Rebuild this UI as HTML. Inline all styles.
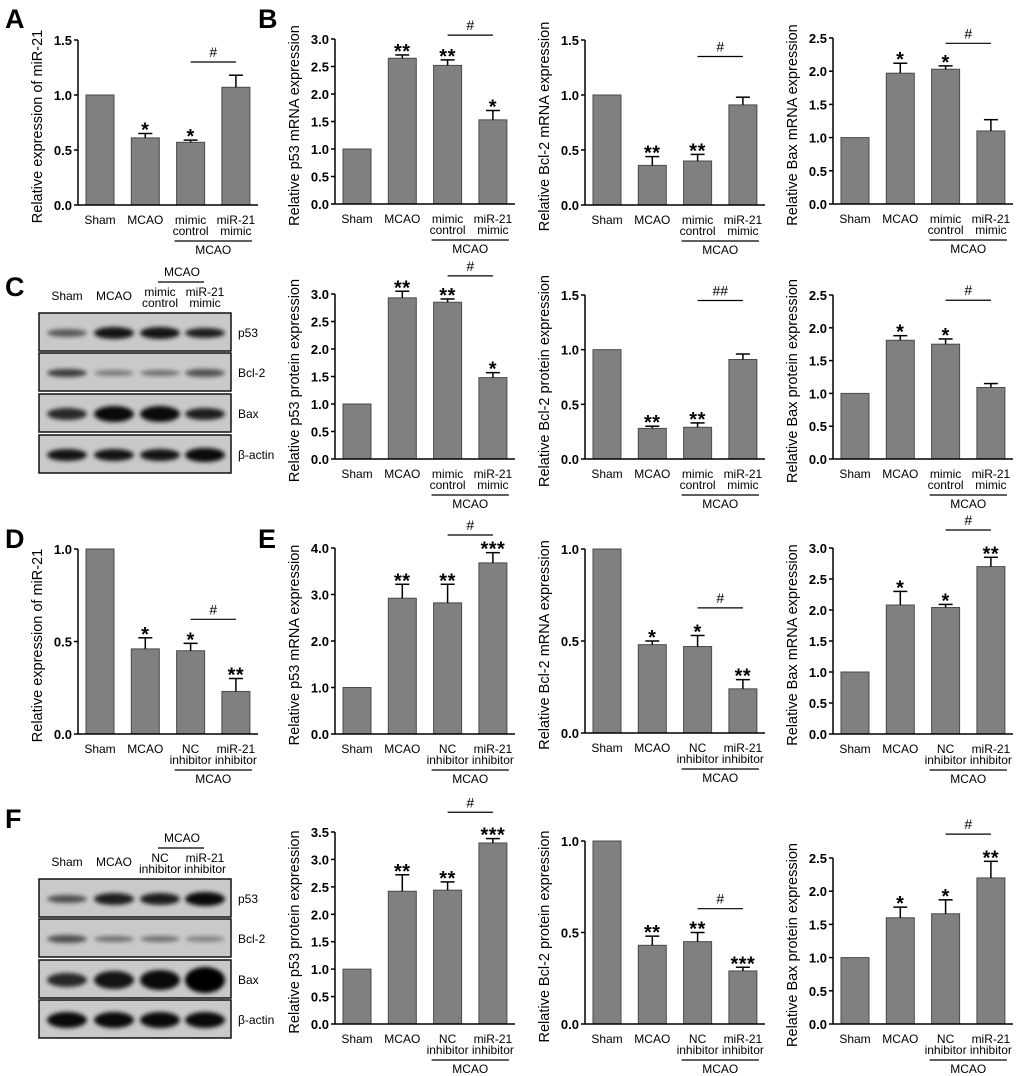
<!DOCTYPE html>
<html><head><meta charset="utf-8">
<style>
html,body{margin:0;padding:0;background:#fff;}
svg{display:block;font-family:"Liberation Sans",Arial,sans-serif;}
</style></head>
<body>
<svg id="fig" width="1020" height="1076" viewBox="0 0 1020 1076" xmlns="http://www.w3.org/2000/svg">
<defs><filter id="blur" x="-20%" y="-50%" width="140%" height="200%"><feGaussianBlur stdDeviation="2.2"/></filter></defs>
</svg>
<script>
// ---- categories ----
const catsMimic=[["Sham"],["MCAO"],["mimic","control"],["miR-21","mimic"]];
const catsInhib=[["Sham"],["MCAO"],["NC","inhibitor"],["miR-21","inhibitor"]];
// ---- series values / errors / significance ----
const valsA=[1,0.61,0.57,1.07], errA=[0,0.04,0.02,0.11], starsA=["","*","*",""];
const valsB1=[1,2.65,2.52,1.53], errB1=[0,0.06,0.10,0.17], starsB1=["","**","**","*"];
const valsB2=[1,0.36,0.40,0.91], errB2=[0,0.08,0.06,0.07], starsB2=["","**","**",""];
const valsB3=[1,1.97,2.03,1.10], errB3=[0,0.15,0.05,0.17], starsB3=["","*","*",""];
const valsC1=[1,2.93,2.85,1.48], errC1=[0,0.12,0.06,0.09], starsC1=["","**","**","*"];
const valsC2=[1,0.28,0.29,0.91], errC2=[0,0.02,0.04,0.05], starsC2=["","**","**",""];
const valsC3=[1,1.81,1.75,1.09], errC3=[0,0.07,0.08,0.06], starsC3=["","*","*",""];
const valsD=[1,0.46,0.45,0.23], errD=[0,0.06,0.04,0.07], starsD=["","*","*","**"];
const valsE1=[1,2.92,2.82,3.68], errE1=[0,0.30,0.40,0.22], starsE1=["","**","**","***"];
const valsE2=[1,0.48,0.47,0.24], errE2=[0,0.02,0.06,0.05], starsE2=["","*","*","**"];
const valsE3=[1,2.08,2.04,2.70], errE3=[0,0.22,0.05,0.15], starsE3=["","*","*","**"];
const valsF1=[1,2.42,2.44,3.30], errF1=[0,0.30,0.15,0.08], starsF1=["","**","**","***"];
const valsF2=[1,0.43,0.45,0.29], errF2=[0,0.05,0.05,0.02], starsF2=["","**","**","***"];
const valsF3=[1,1.60,1.66,2.20], errF3=[0,0.16,0.21,0.25], starsF3=["","*","*","**"];
// ---- tick labels ----
const ticks15=["0.0","0.5","1.0","1.5"];
const ticks30=["0.0","0.5","1.0","1.5","2.0","2.5","3.0"];
const ticks25=["0.0","0.5","1.0","1.5","2.0","2.5"];
const ticks10=["0.0","0.5","1.0"];
const ticks40=["0.0","1.0","2.0","3.0","4.0"];
const ticks35=["0.0","0.5","1.0","1.5","2.0","2.5","3.0","3.5"];
// ---- significance bar heights (data units) and labels ----
const hashVals=[1.30,3.07,1.35,2.42,3.33,1.45,2.42,0.62,4.28,0.68,3.29,3.86,0.63,2.86];
const hashLabels=["#","#","#","#","#","##","#","#","#","#","#","#","#","#"];

const svg=document.getElementById('fig');
const NS="http://www.w3.org/2000/svg";
function el(tag,attrs,parent){const e=document.createElementNS(NS,tag);for(const k in attrs)e.setAttribute(k,attrs[k]);(parent||svg).appendChild(e);return e;}
function txt(s,attrs,parent){const e=el('text',attrs,parent);e.textContent=s;return e;}

function chart(name,ax,top,bot,ticks,vals,errs,stars,cats,title,hv,hl){
  const g=el('g',{});
  
  
  const ymax=parseFloat(ticks[ticks.length-1]);
  const y=v=>bot-v/ymax*(bot-top);
  const bx=i=>ax+8+i*45.3;
  const bw=28;
  vals.forEach((v,i)=>{
    const r=el('rect',{x:bx(i),y:y(v),width:bw,height:bot-y(v),fill:'#808080',stroke:'#4a4a4a','stroke-width':1},g);
    
    
    if(errs[i]>0){
      const cx=bx(i)+bw/2, ye=y(v+errs[i]);
      el('line',{x1:cx,y1:y(v),x2:cx,y2:ye,stroke:'#000','stroke-width':1.5},g);
      el('line',{x1:cx-7,y1:ye,x2:cx+7,y2:ye,stroke:'#000','stroke-width':1.5},g);
    }
    if(stars[i]){
      const s=txt(stars[i],{x:bx(i)+bw/2,y:y(v+errs[i])+3,'text-anchor':'middle','font-size':20,'font-weight':'bold','letter-spacing':'0.5'},g);
      
      
    }
  });
  el('line',{x1:ax,y1:top,x2:ax,y2:bot,stroke:'#000','stroke-width':1.5},g);
  el('line',{x1:ax,y1:bot,x2:ax+180,y2:bot,stroke:'#000','stroke-width':1.5},g);
  ticks.forEach(t=>{
    const ty=y(parseFloat(t));
    el('line',{x1:ax-4,y1:ty,x2:ax,y2:ty,stroke:'#000','stroke-width':1.5},g);
    const l=txt(t,{x:ax-6,y:ty+5,'text-anchor':'end','font-size':13,'font-weight':'bold'},g);
    
    
  });
  const tt=txt(title,{x:0,y:0,'text-anchor':'middle','font-size':14.5,transform:`translate(${ax-36},${(top+bot)/2+4}) rotate(-90)`},g);
  
  
  cats.forEach((c,i)=>{
    const cx=bx(i)+bw/2;
    c.forEach((line,j)=>{
      const l=txt(line,{x:cx,y:bot+19+j*11,'text-anchor':'middle','font-size':12},g);
      
      
    });
  });
  el('line',{x1:bx(2)-2,y1:bot+36,x2:bx(3)+bw+2,y2:bot+36,stroke:'#000','stroke-width':1.2},g);
  const m=txt('MCAO',{x:(bx(2)+bx(3)+bw)/2,y:bot+49,'text-anchor':'middle','font-size':12},g);
  
  
  const hy=y(hv);
  el('line',{x1:bx(2)+bw/2,y1:hy,x2:bx(3)+bw/2,y2:hy,stroke:'#000','stroke-width':1.2},g);
  const h=txt(hl,{x:(bx(2)+bx(3)+bw)/2,y:hy-5,'text-anchor':'middle','font-size':14},g);
  
  
}

const cols=[78,335,585,833];
chart('chart-a-mir21',cols[0],40,205,ticks15,valsA,errA,starsA,catsMimic,'Relative expression of miR-21',hashVals[0],hashLabels[0]);
chart('chart-b-p53-mrna',cols[1],39,204,ticks30,valsB1,errB1,starsB1,catsMimic,'Relative p53 mRNA expression',hashVals[1],hashLabels[1]);
chart('chart-b-bcl2-mrna',cols[2],40,205,ticks15,valsB2,errB2,starsB2,catsMimic,'Relative Bcl-2 mRNA expression',hashVals[2],hashLabels[2]);
chart('chart-b-bax-mrna',cols[3],38,204,ticks25,valsB3,errB3,starsB3,catsMimic,'Relative Bax mRNA expression',hashVals[3],hashLabels[3]);
chart('chart-c-p53-protein',cols[1],294,459,ticks30,valsC1,errC1,starsC1,catsMimic,'Relative p53 protein expression',hashVals[4],hashLabels[4]);
chart('chart-c-bcl2-protein',cols[2],295,459,ticks15,valsC2,errC2,starsC2,catsMimic,'Relative Bcl-2 protein expression',hashVals[5],hashLabels[5]);
chart('chart-c-bax-protein',cols[3],295,459,ticks25,valsC3,errC3,starsC3,catsMimic,'Relative Bax protein expression',hashVals[6],hashLabels[6]);
chart('chart-d-mir21',cols[0],549,734,ticks10,valsD,errD,starsD,catsInhib,'Relative expression of miR-21',hashVals[7],hashLabels[7]);
chart('chart-e-p53-mrna',cols[1],548,734,ticks40,valsE1,errE1,starsE1,catsInhib,'Relative p53 mRNA expression',hashVals[8],hashLabels[8]);
chart('chart-e-bcl2-mrna',cols[2],549,733,ticks10,valsE2,errE2,starsE2,catsInhib,'Relative Bcl-2 mRNA expression',hashVals[9],hashLabels[9]);
chart('chart-e-bax-mrna',cols[3],548,734,ticks30,valsE3,errE3,starsE3,catsInhib,'Relative Bax mRNA expression',hashVals[10],hashLabels[10]);
chart('chart-f-p53-protein',cols[1],832,1024,ticks35,valsF1,errF1,starsF1,catsInhib,'Relative p53 protein expression',hashVals[11],hashLabels[11]);
chart('chart-f-bcl2-protein',cols[2],841,1024,ticks10,valsF2,errF2,starsF2,catsInhib,'Relative Bcl-2 protein expression',hashVals[12],hashLabels[12]);
chart('chart-f-bax-protein',cols[3],858,1024,ticks25,valsF3,errF3,starsF3,catsInhib,'Relative Bax protein expression',hashVals[13],hashLabels[13]);

// ---- western blots ----
const blotRows=["p53","Bcl-2","Bax","β-actin"];
const bandC=[[[0.55,4],[0.9,6],[0.9,6],[0.85,5]],[[0.7,4],[0.4,3],[0.45,3],[0.6,4]],[[0.8,6],[0.95,8],[0.95,8],[0.85,6]],[[0.9,6],[0.9,6],[0.9,6],[0.95,7]]];
const bandF=[[[0.6,4],[0.85,6],[0.85,6],[0.95,7]],[[0.6,4],[0.45,3],[0.45,3],[0.35,3]],[[0.8,7],[0.9,9],[0.95,10],[1,13]],[[0.95,8],[0.95,8],[0.95,8],[0.95,8]]];
const laneX=[67,114,160,205];
function blot(name,y0,rowTops,bands,cats){
  const g=el('g',{});
  
  
  const t=txt('MCAO',{x:182,y:y0,'text-anchor':'middle','font-size':12},g);
  
  
  el('line',{x1:158,y1:y0+6,x2:204,y2:y0+6,stroke:'#000','stroke-width':1.2},g);
  cats.forEach((c,i)=>{c.forEach((line,j)=>{
    const l=txt(line,{x:laneX[i],y:y0+(c.length==1?24:20)+j*11,'text-anchor':'middle','font-size':12},g);
    
    
  });});
  rowTops.forEach((ry,r)=>{
    el('rect',{x:39,y:ry,width:192,height:38,fill:'#c9c9c9',stroke:'#111','stroke-width':1.5},g);
    bands[r].forEach((b,i)=>{
      const e=el('ellipse',{cx:laneX[i],cy:ry+20,rx:20,ry:b[1],fill:'#000',opacity:b[0],filter:'url(#blur)'},g);
      
      
    });
    const l=txt(blotRows[r],{x:238,y:ry+24,'font-size':12},g);
    
    
  });
}
blot('western-blot-c',276,[313,353,394,435],bandC,catsMimic);
blot('western-blot-f',842,[879,919,960,1000],bandF,catsInhib);

// ---- panel letters ----
const letters=[["A",5,28],["B",258,28],["C",5,296],["D",5,548],["E",258,548],["F",5,828]];
letters.forEach(L=>{
  const t=txt(L[0],{x:L[1],y:L[2],'font-size':27,'font-weight':'bold'});
  
  
});
</script>
</body></html>
